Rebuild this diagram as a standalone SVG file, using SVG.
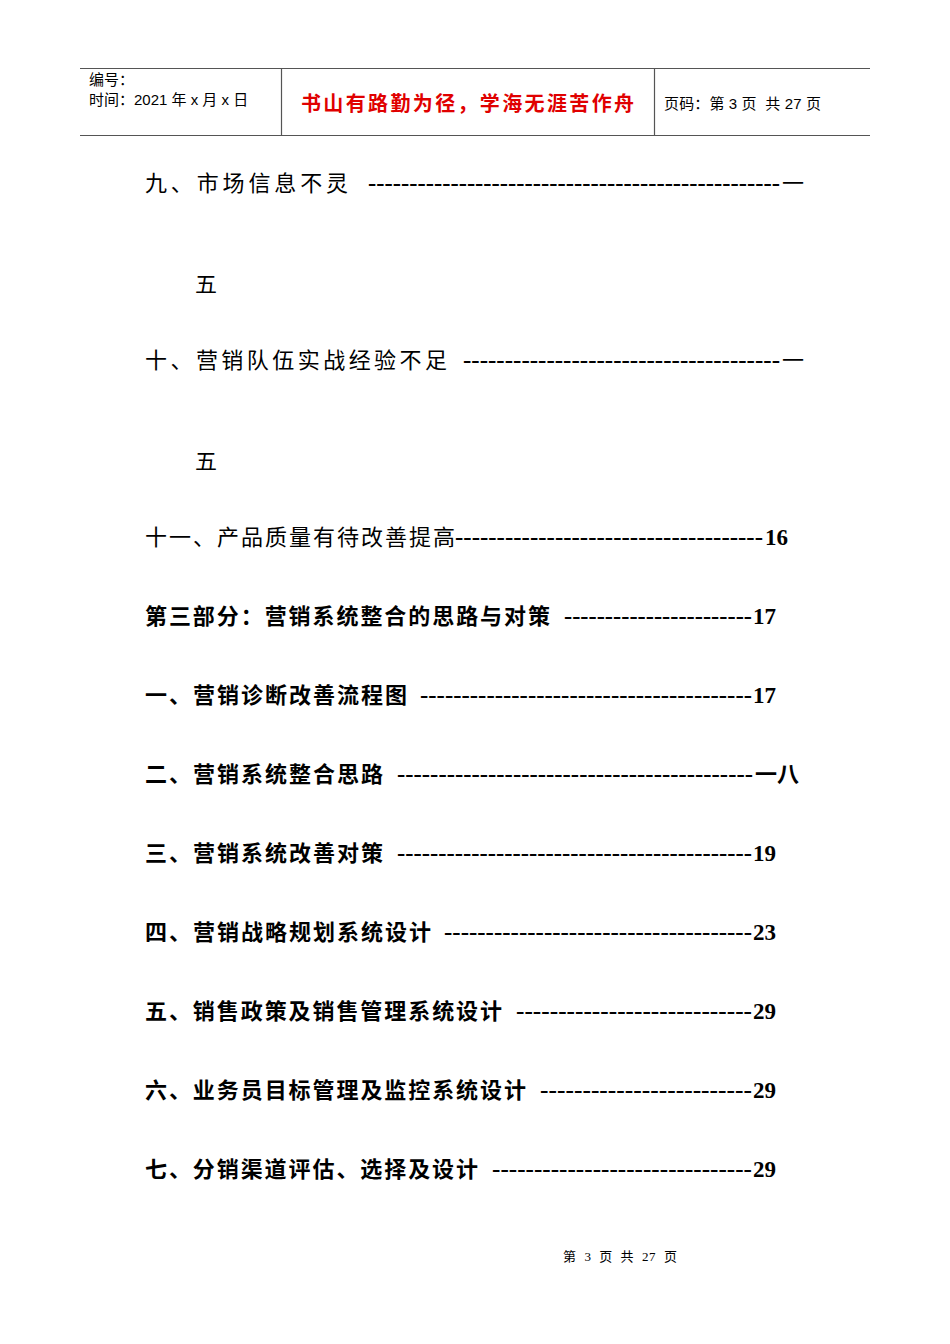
<svg xmlns="http://www.w3.org/2000/svg" width="950" height="1344" viewBox="0 0 950 1344">
<style>
.h{font-family:"Liberation Sans","Noto Sans CJK SC",sans-serif;font-size:15px;fill:#000}
.r{font-family:"Noto Sans CJK SC",sans-serif;font-size:20px;fill:#e00000;font-weight:bold}
.c{font-family:"Noto Sans CJK SC",serif;font-size:22px;fill:#000}
.b{font-weight:bold}
.d{font-family:"Liberation Serif",serif;font-size:23px;font-weight:bold;fill:#000}
.f{font-family:"Liberation Serif","Noto Sans CJK SC",serif;font-size:13px;fill:#000}
</style>
<rect width="950" height="1344" fill="#fff"/>
<g id="header" stroke="#555" stroke-width="1.2">
<line x1="80" y1="68.5" x2="870" y2="68.5"/>
<line x1="80" y1="135.5" x2="870" y2="135.5"/>
<line x1="281.5" y1="68" x2="281.5" y2="135"/>
<line x1="654.5" y1="68" x2="654.5" y2="135"/>
</g>
<text class="h" x="89" y="85">编号：</text>
<text class="h" x="89" y="105" xml:space="preserve">时间：2021 年 x 月 x 日</text>
<text class="r" x="301" y="111" textLength="333">书山有路勤为径，学海无涯苦作舟</text>
<text class="h" x="664" y="109" textLength="157" xml:space="preserve">页码：第 3 页  共 27 页</text>

<text class="c" x="145" y="191" textLength="203">九、市场信息不灵</text>
<text class="d" x="368" y="191" textLength="412" lengthAdjust="spacingAndGlyphs">--------------------------------------------------</text>
<text class="c" x="782" y="191">一</text>
<text class="c" x="195" y="292">五</text>

<text class="c" x="145" y="368" textLength="302">十、营销队伍实战经验不足</text>
<text class="d" x="463" y="368" textLength="317" lengthAdjust="spacingAndGlyphs">--------------------------------------</text>
<text class="c" x="782" y="368">一</text>
<text class="c" x="195" y="469">五</text>

<text class="c" x="145" y="545" textLength="310">十一、产品质量有待改善提高</text>
<text class="d" x="455" y="545" textLength="308" lengthAdjust="spacingAndGlyphs">-------------------------------------</text>
<text class="d" x="765" y="545">16</text>

<g class="b">
<text class="c b" x="145" y="624" textLength="405">第三部分：营销系统整合的思路与对策</text>
<text class="d" x="564" y="624" textLength="188" lengthAdjust="spacingAndGlyphs">-----------------------</text>
<text class="d" x="753" y="624">17</text>

<text class="c b" x="145" y="703" textLength="262">一、营销诊断改善流程图</text>
<text class="d" x="420" y="703" textLength="332" lengthAdjust="spacingAndGlyphs">----------------------------------------</text>
<text class="d" x="753" y="703">17</text>

<text class="c b" x="145" y="782" textLength="238">二、营销系统整合思路</text>
<text class="d" x="397" y="782" textLength="356" lengthAdjust="spacingAndGlyphs">-------------------------------------------</text>
<text class="c b" x="755" y="782">一八</text>

<text class="c b" x="145" y="861" textLength="238">三、营销系统改善对策</text>
<text class="d" x="397" y="861" textLength="355" lengthAdjust="spacingAndGlyphs">-------------------------------------------</text>
<text class="d" x="753" y="861">19</text>

<text class="c b" x="145" y="940" textLength="286">四、营销战略规划系统设计</text>
<text class="d" x="444" y="940" textLength="308" lengthAdjust="spacingAndGlyphs">-------------------------------------</text>
<text class="d" x="753" y="940">23</text>

<text class="c b" x="145" y="1019" textLength="357">五、销售政策及销售管理系统设计</text>
<text class="d" x="516" y="1019" textLength="236" lengthAdjust="spacingAndGlyphs">----------------------------</text>
<text class="d" x="753" y="1019">29</text>

<text class="c b" x="145" y="1098" textLength="381">六、业务员目标管理及监控系统设计</text>
<text class="d" x="540" y="1098" textLength="212" lengthAdjust="spacingAndGlyphs">-------------------------</text>
<text class="d" x="753" y="1098">29</text>

<text class="c b" x="145" y="1177" textLength="333">七、分销渠道评估、选择及设计</text>
<text class="d" x="492" y="1177" textLength="260" lengthAdjust="spacingAndGlyphs">-------------------------------</text>
<text class="d" x="753" y="1177">29</text>
</g>

<text class="f" x="563" y="1261" textLength="114" xml:space="preserve">第  3  页  共  27  页</text>
</svg>
